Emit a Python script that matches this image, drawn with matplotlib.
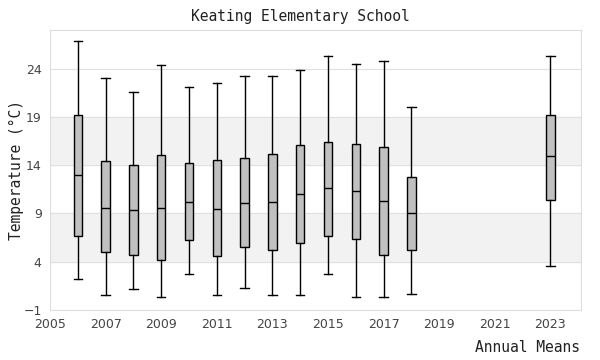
import matplotlib
matplotlib.use("Agg")
import matplotlib.pyplot as plt

years = [2006, 2007, 2008, 2009, 2010, 2011, 2012, 2013, 2014, 2015, 2016, 2017, 2018, 2023]
whislo = [2.2, 0.6, 1.2, 0.3, 2.7, 0.5, 1.3, 0.6, 0.6, 2.7, 0.3, 0.3, 0.7, 3.5]
q1 = [6.7, 5.0, 4.7, 4.2, 6.2, 4.6, 5.5, 5.2, 5.9, 6.7, 6.3, 4.7, 5.2, 10.4]
med = [13.0, 9.6, 9.3, 9.6, 10.2, 9.5, 10.1, 10.2, 11.0, 11.6, 11.3, 10.3, 9.0, 14.9]
q3 = [19.2, 14.4, 14.0, 15.0, 14.2, 14.5, 14.7, 15.1, 16.1, 16.4, 16.2, 15.9, 12.8, 19.2]
whishi = [26.8, 23.0, 21.6, 24.4, 22.1, 22.5, 23.2, 23.2, 23.8, 25.3, 24.5, 24.8, 20.0, 25.3]

yticks = [-1, 4, 9, 14, 19, 24]
xticks = list(range(2005, 2024, 2))

stats = []
for i in range(len(years)):
    stats.append({"whislo": whislo[i], "q1": q1[i], "med": med[i],
                  "q3": q3[i], "whishi": whishi[i], "fliers": []})

fig = plt.figure(figsize=(6, 3.6), dpi=100)
ax = fig.add_axes([0.0833, 0.139, 0.885, 0.778])

# alternating bands
ax.axhspan(4, 9, color="#f2f2f2", zorder=0)
ax.axhspan(14, 19, color="#f2f2f2", zorder=0)
for t in yticks:
    ax.axhline(t, color="#e0e0e0", lw=0.8, zorder=0.5)

ax.bxp(stats, positions=years, widths=0.3, patch_artist=True, showfliers=False,
       boxprops=dict(facecolor="#c0c0c0", edgecolor="black", linewidth=1),
       medianprops=dict(color="black", linewidth=1),
       whiskerprops=dict(color="black", linewidth=1),
       capprops=dict(color="black", linewidth=1),
       capwidths=0.3, manage_ticks=False, zorder=2)

ax.set_xlim(2005, 2024.1)
ax.set_ylim(-1, 28)
ax.set_xticks(xticks)
ax.set_yticks(yticks)
ax.tick_params(length=0, labelsize=9, colors="#444444", pad=6)

for s in ax.spines.values():
    s.set_color("#dddddd")

fig.text(0.5, 0.955, "Keating Elementary School", ha="center", va="center",
         family="DejaVu Sans Mono", fontsize=10.5, color="#222222")
ax.set_ylabel("Temperature (°C)", family="DejaVu Sans Mono", fontsize=10.5,
              color="#222222")
ax.yaxis.set_label_coords(-0.048, 0.5)
fig.text(0.966, 0.035, "Annual Means", ha="right", va="center",
         family="DejaVu Sans Mono", fontsize=10.5, color="#222222")

fig.savefig("out.png", dpi=100)
